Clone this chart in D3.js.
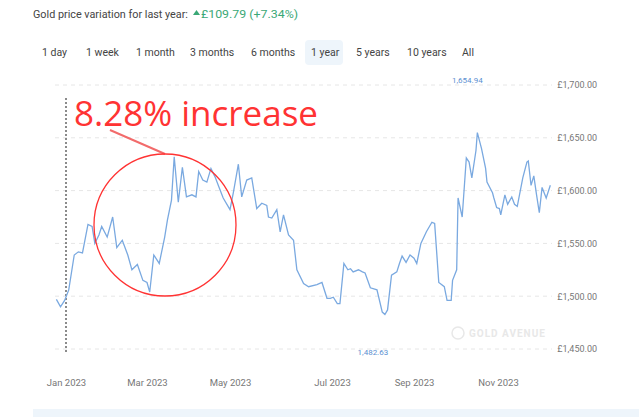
<!DOCTYPE html>
<html>
<head>
<meta charset="utf-8">
<script src="https://cdn.jsdelivr.net/npm/d3@7"></script>
<style>
body { margin: 0; background: #fff; font-family: Roboto, "Noto Sans", sans-serif; }
</style>
</head>
<body>
<div id="chart"></div>
<script>
// gold price (GBP/oz)
var dates = ["2022-12-25","2022-12-28","2022-12-31","2023-01-03","2023-01-07","2023-01-10","2023-01-13","2023-01-17","2023-01-20","2023-01-22","2023-01-25","2023-01-27","2023-01-31","2023-02-04","2023-02-07","2023-02-11","2023-02-15","2023-02-18","2023-02-22","2023-02-26","2023-03-01","2023-03-03","2023-03-06","2023-03-10","2023-03-14","2023-03-16","2023-03-19","2023-03-21","2023-03-24","2023-03-27","2023-03-30","2023-04-03","2023-04-06","2023-04-08","2023-04-11","2023-04-14","2023-04-17","2023-04-20","2023-04-23","2023-04-26","2023-05-01","2023-05-03","2023-05-06","2023-05-08","2023-05-11","2023-05-14","2023-05-17","2023-05-20","2023-05-23","2023-05-24","2023-05-26","2023-05-29","2023-05-31","2023-06-02","2023-06-05","2023-06-08","2023-06-10","2023-06-14","2023-06-17","2023-06-22","2023-06-25","2023-06-28","2023-06-30","2023-07-02","2023-07-05","2023-07-07","2023-07-10","2023-07-13","2023-07-15","2023-07-17","2023-07-21","2023-07-24","2023-07-26","2023-07-30","2023-08-04","2023-08-08","2023-08-10","2023-08-12","2023-08-15","2023-08-19","2023-08-21","2023-08-23","2023-08-26","2023-08-29","2023-09-01","2023-09-03","2023-09-06","2023-09-10","2023-09-14","2023-09-16","2023-09-19","2023-09-23","2023-09-25","2023-09-28","2023-09-29","2023-10-02","2023-10-03","2023-10-06","2023-10-09","2023-10-11","2023-10-13","2023-10-16","2023-10-17","2023-10-20","2023-10-23","2023-10-24","2023-10-28","2023-10-29","2023-10-31","2023-11-02","2023-11-03","2023-11-06","2023-11-08","2023-11-11","2023-11-13","2023-11-15","2023-11-19","2023-11-22","2023-11-23","2023-11-25","2023-11-27","2023-11-29","2023-12-01","2023-12-03","2023-12-06","2023-12-09"]
var prices = [1497,1490,1496,1506,1539,1542,1541,1568,1566,1550,1558,1566,1556,1575,1546,1553,1539,1525,1530,1515,1513,1504,1539,1531,1556,1572,1591,1632,1589,1622,1594,1596,1594,1618,1610,1608,1621,1613,1603,1593,1582,1598,1625,1594,1610,1612,1583,1588,1586,1575,1574,1582,1561,1577,1558,1553,1525,1512,1509,1511,1513,1498,1498,1499,1493,1493,1531,1525,1526,1523,1525,1523,1522,1508,1506,1485,1482.63,1487,1520,1523,1531,1538,1532,1539,1536,1531,1550,1561,1570,1569,1513,1509,1496,1496,1515,1525,1593,1575,1631,1627,1612,1638,1654.94,1640,1621,1608,1598,1593,1584,1583,1577,1596,1587,1594,1587,1585,1612,1627,1628,1605,1614,1596,1579,1603,1593,1605]

var yTicks = [1450, 1500, 1550, 1600, 1650, 1700]
var xTicks = ["2023-01-01","2023-03-01","2023-05-01","2023-07-01","2023-09-01","2023-11-01"]
var periods = ["1 day","1 week","1 month","3 months","6 months","1 year","5 years","10 years","All"]
var periodX = [42, 86, 136, 190, 251, 311, 356, 407, 462]

var width = 639, height = 417
var parse = d3.timeParse("%Y-%m-%d")
var data = dates.map(function(d, i) { return {date: parse(d), value: prices[i]} })

var svg = d3.select("#chart").append("svg")
    .attr("width", width)
    .attr("height", height)

// the source axis is not linear in calendar time, so use a piecewise domain
var scaleX = d3.scaleTime()
    .domain(xTicks.map(parse))
    .range([66, 147, 230, 332, 414, 498])

var scaleY = d3.scaleLinear()
    .domain([1450, 1700])
    .range([349, 85])

// header
svg.append("text").attr("x", 33).attr("y", 18)
    .style("font-size", "11px").attr("fill", "#444")
    .attr("textLength", 155).attr("lengthAdjust", "spacingAndGlyphs")
    .text("Gold price variation for last year:")
svg.append("path").attr("d", "M193,15 l3.5,-5 l3.5,5 z").attr("fill", "#3aa876")
svg.append("text").attr("x", 201).attr("y", 18)
    .style("font-size", "11px").attr("fill", "#3aa876")
    .attr("textLength", 97).attr("lengthAdjust", "spacingAndGlyphs")
    .text("£109.79  (+7.34%)")

// period buttons
svg.append("rect").attr("x", 305).attr("y", 40).attr("width", 38).attr("height", 25)
    .attr("rx", 4).attr("fill", "#eef5fb")
svg.selectAll(".period").data(periods).enter().append("text")
    .attr("class", "period")
    .attr("x", function(d, i) { return periodX[i] })
    .attr("y", 56)
    .style("font-size", "10.5px").attr("fill", "#444")
    .text(function(d) { return d })

// grid + y labels
svg.selectAll(".grid").data(yTicks).enter().append("line")
    .attr("x1", 55).attr("x2", 552)
    .attr("y1", function(d) { return scaleY(d) })
    .attr("y2", function(d) { return scaleY(d) })
    .attr("stroke", "#e6e6e6").attr("stroke-dasharray", "4,4")

svg.append("g")
    .attr("transform", "translate(597,0)")
    .call(d3.axisRight(scaleY).tickValues(yTicks).tickSize(0)
      .tickFormat(function(d) { return "£" + d3.format(",.2f")(d) }))
    .call(function(g) { g.select(".domain").remove() })
    .call(function(g) { g.selectAll("text").attr("x", 0).attr("text-anchor", "end")
      .attr("fill", "#777").style("font-size", "9px").style("font-family", "Roboto") })

// x axis
svg.append("g")
    .attr("transform", "translate(0,376)")
    .call(d3.axisBottom(scaleX).tickValues(xTicks.map(parse)).tickSize(0)
      .tickFormat(d3.timeFormat("%b %Y")))
    .call(function(g) { g.select(".domain").remove() })
    .call(function(g) { g.selectAll("text").attr("fill", "#777")
      .style("font-size", "9.5px").style("font-family", "Roboto") })

// watermark
svg.append("circle").attr("cx", 458).attr("cy", 333).attr("r", 6)
    .attr("fill", "none").attr("stroke", "#e8e8e8").attr("stroke-width", 1.5)
svg.append("text").attr("x", 469).attr("y", 337)
    .style("font-size", "10px").style("font-weight", "bold").style("letter-spacing", "1px")
    .attr("fill", "#e8e8e8").text("GOLD AVENUE")

// year start marker
svg.append("line")
    .attr("x1", scaleX(parse("2023-01-01"))).attr("x2", scaleX(parse("2023-01-01")))
    .attr("y1", 98).attr("y2", 352)
    .attr("stroke", "#666").attr("stroke-width", 1.5).attr("stroke-dasharray", "2,2")

// price line
var line = d3.line()
    .x(function(d) { return scaleX(d.date) })
    .y(function(d) { return scaleY(d.value) })

svg.append("path").datum(data)
    .attr("d", line)
    .attr("fill", "none")
    .attr("stroke", "#7aa9e0")
    .attr("stroke-width", 1.3)

// max / min labels
var maxD = data[d3.maxIndex(data, function(d) { return d.value })]
var minD = data[d3.minIndex(data, function(d) { return d.value })]
svg.append("text").attr("x", scaleX(maxD.date) - 10).attr("y", 83)
    .attr("text-anchor", "middle").style("font-size", "8px").attr("fill", "#5b8fd1")
    .text(d3.format(",.2f")(maxD.value))
svg.append("text").attr("x", scaleX(minD.date) - 12).attr("y", 355)
    .attr("text-anchor", "middle").style("font-size", "8px").attr("fill", "#5b8fd1")
    .text(d3.format(",.2f")(minD.value))

// annotation
svg.append("text").attr("x", 74).attr("y", 126)
    .style("font-size", "35px").style("font-family", "'Open Sans', sans-serif")
    .attr("fill", "#ff3333")
    .attr("textLength", 244).attr("lengthAdjust", "spacingAndGlyphs")
    .text("8.28% increase")
svg.append("line").attr("x1", 110).attr("y1", 130).attr("x2", 165).attr("y2", 154)
    .attr("stroke", "#f26b6b").attr("stroke-width", 2)
svg.append("circle").attr("cx", 165).attr("cy", 225).attr("r", 71)
    .attr("fill", "none").attr("stroke", "#ff3333").attr("stroke-width", 1.3)

// bottom band
svg.append("rect").attr("x", 33).attr("y", 409).attr("width", 606).attr("height", 8)
    .attr("fill", "#eef5fb")
</script>
</body>
</html>
